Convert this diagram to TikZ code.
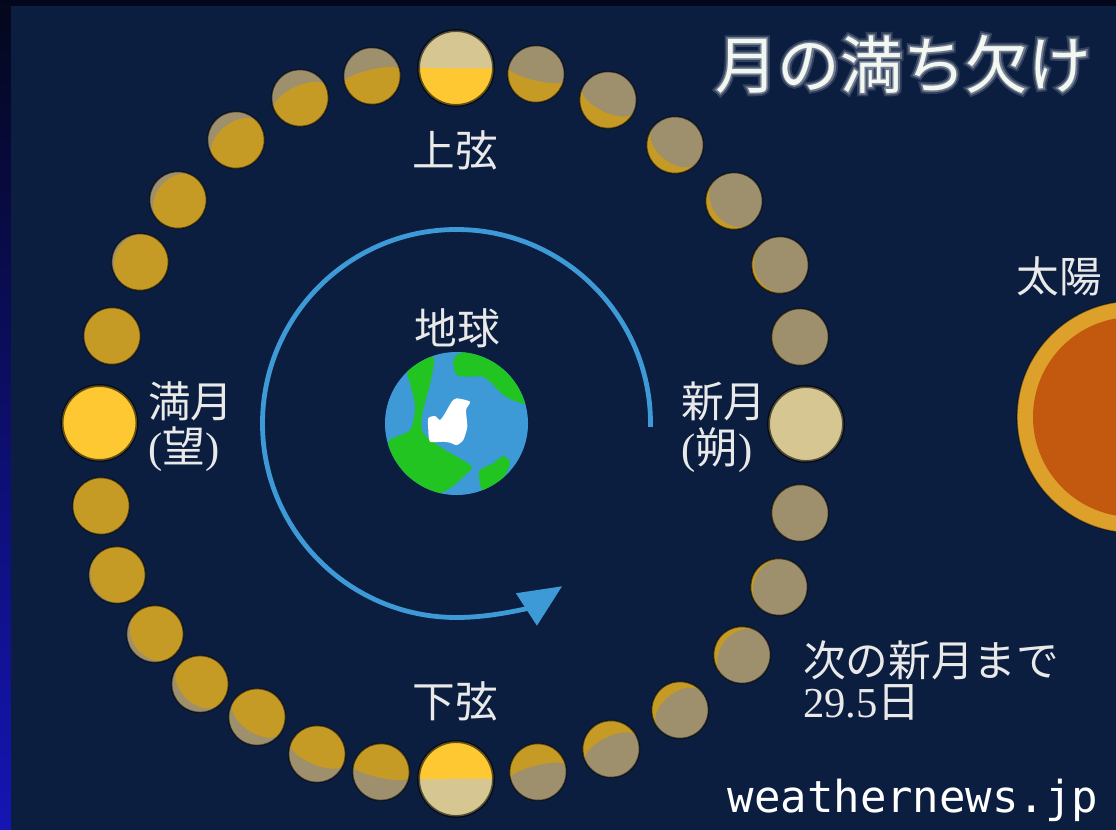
\documentclass[tikz,border=0pt]{standalone}
\usepackage{fontspec}
\usetikzlibrary{arrows.meta}
\newfontfamily\jpfont{Noto Sans CJK JP}
\newfontfamily\jphaloinner[FakeBold=5]{Noto Sans CJK JP}
\newfontfamily\jphaloouter[FakeBold=11]{Noto Sans CJK JP}
\newfontfamily\latinserif{Liberation Serif}
\newfontfamily\wnmono{DejaVu Sans Mono}

\definecolor{framedark}{HTML}{04071C}
\definecolor{edgeblue}{HTML}{1515B5}
\definecolor{sky}{HTML}{0B1E3F}
\definecolor{moontan}{HTML}{9E8F6D}
\definecolor{moongold}{HTML}{C59B25}
\definecolor{bigtan}{HTML}{D6C792}
\definecolor{bigyellow}{HTML}{FDC832}
\definecolor{orbitblue}{HTML}{3D9AD6}
\definecolor{oceanblue}{HTML}{3E9AD6}
\definecolor{landgreen}{HTML}{22C422}
\definecolor{sunring}{HTML}{DDA12B}
\definecolor{suncore}{HTML}{C2590F}
\definecolor{labelwhite}{HTML}{E9E9E9}
\definecolor{titlewhite}{HTML}{F2F7F2}
\colorlet{haloinner}{white!42!sky}
\colorlet{haloouter}{white!16!sky}

% One moon: #1,#2 centre, #3 radius (px), #4 dark side, #5 lit side, #6 rim width.
% The lit side faces the Earth; its edge is a half ellipse set by the orbit angle.
\newcommand\drawmoon[6]{%
  \pgfmathsetmacro\mdx{(#1-453)/100}%
  \pgfmathsetmacro\mdy{(424-#2)/100}%
  \pgfmathsetmacro\mrot{atan2(-\mdy,-\mdx)}%
  \pgfmathsetmacro\mc{\mdx/sqrt(\mdx*\mdx+\mdy*\mdy)}%
  \pgfmathsetlengthmacro\mR{#3*0.75pt}%
  \pgfmathsetlengthmacro\mXR{max(abs(\mc)*\mR,0.05pt)}%
  \pgfmathsetmacro\mE{\mc>=0 ? -90 : 270}%
  \begin{scope}[shift={(#1,#2)},rotate=\mrot]
    \fill[#4] (0pt,0pt) circle[radius=\mR];
    \fill[#5] (0pt,-\mR) arc[start angle=-90,end angle=90,radius=\mR]
      arc[start angle=90,end angle=\mE,x radius=\mXR,y radius=\mR] -- cycle;
    \draw[black,opacity=0.6,line width=#6] (0pt,0pt) circle[radius=\mR];
  \end{scope}}

% title text over two emboldened layers that act as its glow;
% each character is centred on its own, so the layers stay aligned
\newcommand\glowchar[1]{\makebox[1em]{%
  \makebox[0pt]{\color{haloouter}\jphaloouter #1}%
  \makebox[0pt]{\color{haloinner}\jphaloinner #1}%
  \makebox[0pt]{#1}}}
\newcommand\glowtitle{\glowchar{月}\glowchar{の}\glowchar{満}\glowchar{ち}\glowchar{欠}\glowchar{け}}

\tikzset{
  moonlabel/.style={text=labelwhite,font=\jpfont\fontsize{32}{36}\selectfont,inner sep=0pt},
  titletext/.style={text=titlewhite,font=\jpfont\fontsize{47}{52}\selectfont,inner sep=0pt},
  orbitarrow/.style={orbitblue,line width=3.6pt,-{Triangle[length=32pt,width=28pt]}},
}

\begin{document}
\begin{tikzpicture}[x=0.75pt,y=-0.75pt]
\useasboundingbox (0,0) rectangle (1116,830);

% frame and sky
\fill[framedark] (0,0) rectangle (1116,830);
\shade[top color=framedark,bottom color=edgeblue] (0,0) rectangle (11,830);
\fill[sky] (11,6) rectangle (1116,830);

% the Sun, cut by the right edge
\begin{scope}
  \clip (11,6) rectangle (1116,830);
  \fill[sunring] (1133,417) circle[radius=87pt];
  \draw[black,opacity=0.45,line width=1pt] (1133,417) circle[radius=87pt];
  \fill[suncore] (1133,417) circle[radius=75pt];
\end{scope}

% title
\node[titletext] (title) at (903,64) {\glowtitle};

% Earth
\node[circle,fill=oceanblue,minimum size=107.25pt,inner sep=0pt] (earth) at (456.5,423.5) {};
\begin{scope}
  \clip (earth.center) circle[radius=53.6pt];
  \fill[landgreen] plot[smooth cycle,tension=0.5] coordinates {
    (413.3,363.3) (433.3,357.3) (431.7,376.7) (426.7,396.7) (421.7,416.7)
    (423.3,433.3) (440,446.7) (456.7,456.7) (471.7,466.7) (463.3,476.7)
    (450,488) (426.7,498) (398,484) (385,456.7) (390,440) (410,430)
    (415,406.7) (410,383.3) (406.7,370)};
  \fill[landgreen] plot[smooth cycle,tension=0.5] coordinates {
    (453.3,363.3) (458.3,354) (483.3,350) (506,358) (524,378)
    (532,404) (516.7,401.7) (503.3,395) (493.3,385) (483.3,376.7)
    (470,376.7) (456.7,375)};
  \fill[landgreen] plot[smooth cycle,tension=0.5] coordinates {
    (480,470) (493.3,463.3) (503.3,456) (510,463.3) (503.3,478)
    (493.3,490) (483.3,492) (479.3,480)};
  \fill[white] plot[smooth cycle,tension=0.4] coordinates {
    (428.3,418.3) (435,416) (440,420) (445,413.3) (451.7,401.7)
    (456.7,398.3) (470,401.7) (466,410) (467.3,426.7) (463.3,440)
    (456.7,445) (450,442.7) (443.3,441.7) (430,441.7) (428.3,430)};
\end{scope}

% orbit arrow round the Earth
\draw[orbitarrow] ([shift={(-1:145.5pt)}]earth.center)
  arc[start angle=-1,end angle=303,radius=145.5pt];

% the four main phases
\drawmoon{456}{68}{37.5}{bigtan}{bigyellow}{2.2pt}
\drawmoon{456}{779}{37.5}{bigtan}{bigyellow}{2.2pt}
\drawmoon{99.5}{423}{37.5}{bigtan}{bigyellow}{2.2pt}
\drawmoon{806}{424}{37.5}{bigtan}{bigyellow}{2.2pt}

% the days in between
\foreach \px/\py in {372/76,300/98,236/140,178/200,140/262,112/336,
    101/506,117/575,155/634,200/684,257/717,317/754,381/772,
    538/772,611/749,680/710,742/655,779/587,800/513,
    800/337,780/265,734/201,675/145,608/100,536/74}{
  \drawmoon{\px}{\py}{28.5}{moontan}{moongold}{1.1pt}
}

% labels
\node[moonlabel] (firstq) at (455,150) {上弦};
\node[moonlabel] (lastq) at (455,701) {下弦};
\node[moonlabel] (earthname) at (457,328) {地球};
\node[moonlabel,anchor=west] (fullname) at (148,401) {満月};
\node[moonlabel,anchor=west] (fullalt) at (148,449) {{\latinserif(}望{\latinserif)}};
\node[moonlabel,anchor=west] (newname) at (681,401) {新月};
\node[moonlabel,anchor=west] (newalt) at (681,450) {{\latinserif(}朔{\latinserif)}};
\node[moonlabel] (sunname) at (1059,276) {太陽};
\node[moonlabel,anchor=west] (nextnew) at (803,660) {次の新月まで};
\node[moonlabel,anchor=west] (period) at (803,702) {{\latinserif 29.5}日};
\node[text=white,font=\wnmono\fontsize{33}{38}\selectfont,inner sep=0pt] (credit) at (913,800) {weathernews.jp};
\end{tikzpicture}
\end{document}
